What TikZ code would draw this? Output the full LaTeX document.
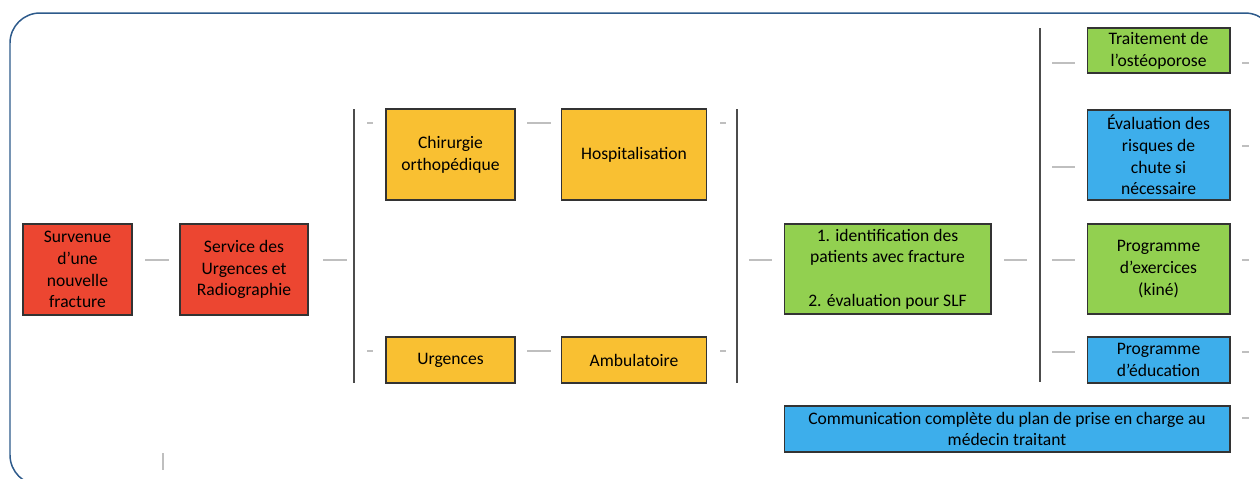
\documentclass[tikz,border=0pt]{standalone}
\usepackage{fontspec}
\setmainfont{Carlito}
\usepackage{tikz}
\usetikzlibrary{positioning}
\definecolor{redfill}{HTML}{EC4631}
\definecolor{orangefill}{HTML}{F9C032}
\definecolor{greenfill}{HTML}{92D050}
\definecolor{bluefill}{HTML}{3DAEEB}
\definecolor{framecol}{HTML}{2D5A8B}
\begin{document}
\begin{tikzpicture}[x=0.02cm, y=-0.02cm,
  box/.style={draw=black!80, line width=0.6pt, align=center, inner sep=1pt, font=\fontsize{10}{12.4}\selectfont},
  redbox/.style={box, fill=redfill},
  orangebox/.style={box, fill=orangefill},
  greenbox/.style={box, fill=greenfill},
  bluebox/.style={box, fill=bluefill},
  stub/.style={draw=black!25, line width=0.9pt},
  bar/.style={draw=black!70, line width=0.8pt}]
\useasboundingbox (0,0) rectangle (1260,478);
\clip (0,0) rectangle (1260,478);
\draw[framecol, line width=0.85pt, rounded corners=0.6cm] (10,13) rectangle (1275,485);

% first column
\node[redbox, minimum width=2.18cm, minimum height=1.82cm] (surv) at (77.5,269.5) {Survenue\\d’une\\nouvelle\\fracture};
\node[redbox, minimum width=2.56cm, minimum height=1.82cm] (serv) at (244,269.5) {Service des\\Urgences et\\Radiographie};

% orientation
\node[orangebox, minimum width=2.58cm, minimum height=1.82cm] (chir) at (450.5,154.5) {Chirurgie\\orthopédique};
\node[orangebox, minimum width=2.9cm, minimum height=1.82cm] (hosp) at (634,154.5) {Hospitalisation};
\node[orangebox, minimum width=2.58cm, minimum height=0.92cm] (urg) at (450.5,360) {Urgences};
\node[orangebox, minimum width=2.9cm, minimum height=0.92cm] (amb) at (634,360) {Ambulatoire};

% SLF
\node[greenbox, minimum width=4.14cm, minimum height=1.8cm] (ident) at (887.5,269) {1. identification des\\patients avec fracture\\[12.4pt]2. évaluation pour SLF};

% prise en charge
\node[greenbox, minimum width=2.86cm, minimum height=0.9cm] (ost) at (1158.5,50.5) {Traitement de\\l’ostéoporose};
\node[bluebox, minimum width=2.86cm, minimum height=1.8cm] (chute) at (1158.5,155) {Évaluation des\\risques de\\chute si\\nécessaire};
\node[greenbox, minimum width=2.86cm, minimum height=1.8cm] (exer) at (1158.5,269) {Programme\\d’exercices\\(kiné)};
\node[bluebox, minimum width=2.86cm, minimum height=0.92cm] (educ) at (1158.5,360) {Programme\\d’éducation};
\node[bluebox, minimum width=8.92cm, minimum height=0.92cm] (comm) at (1007,429) {Communication complète du plan de prise en charge au\\médecin traitant};

% brackets
\coordinate (b1top) at (354,109);
\coordinate (b1bot) at (354,383);
\coordinate (b2top) at (737,109);
\coordinate (b2bot) at (737,383);
\coordinate (b3top) at (1040,28);
\coordinate (b3bot) at (1040,382);
\draw[bar] (b1top) -- (b1bot);
\draw[bar] (b2top) -- (b2bot);
\draw[bar] (b3top) -- (b3bot);

% stubs
\draw[stub] (145,260) -- ++(24,0);
\draw[stub] (323,260) -- ++(24,0);
\draw[stub] (367,123) -- ++(6,0);
\draw[stub] (367,351) -- ++(6,0);
\draw[stub] (527,123) -- ++(24,0);
\draw[stub] (527,351) -- ++(24,0);
\draw[stub] (720,123) -- ++(6,0);
\draw[stub] (720,351) -- ++(6,0);
\draw[stub] (749,260) -- ++(23,0);
\draw[stub] (1004,260) -- ++(23,0);
\foreach \y in {63,167,260,352}
  \draw[stub] (1052,\y) -- ++(23,0);
\foreach \y in {63,146,260,352,418}
  \draw[stub] (1242,\y) -- ++(7,0);
\draw[stub] (163,453) -- (163,470);
\end{tikzpicture}
\end{document}
